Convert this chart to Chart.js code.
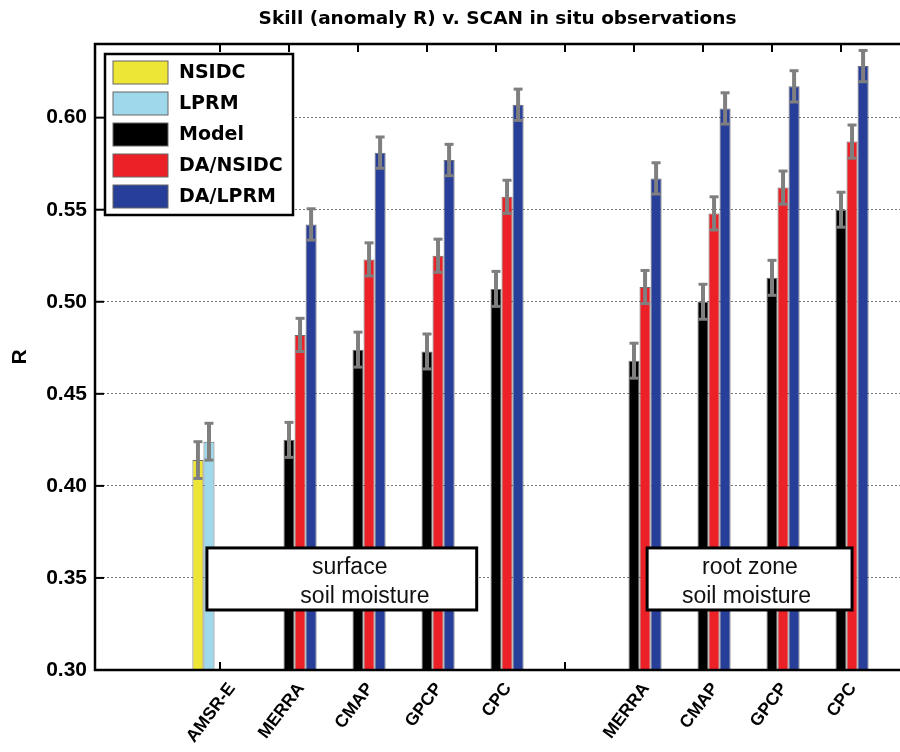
<!DOCTYPE html>
<html>
<head>
<meta charset="utf-8">
<script src="https://cdn.jsdelivr.net/npm/chart.js@4.4.1/dist/chart.umd.min.js"></script>
<style>
  html, body { margin: 0; padding: 0; background: #fff; }
  #wrap { width: 900px; height: 752px; }
</style>
</head>
<body>
<div id="wrap"><canvas id="myChart" width="900" height="752"></canvas></div>
<script>
// tick labels along x (position 6 is the empty gap between the two groups)
const categories = ['AMSR-E', 'MERRA', 'CMAP', 'GPCP', 'CPC', '', 'MERRA', 'CMAP', 'GPCP', 'CPC'];
const seriesNames = ['NSIDC', 'LPRM', 'Model', 'DA/NSIDC', 'DA/LPRM'];

const nsidc   = [0.414, null, null, null, null, null, null, null, null, null];
const lprm    = [0.424, null, null, null, null, null, null, null, null, null];
const model   = [null, 0.425, 0.474, 0.473, 0.507, null, 0.468, 0.500, 0.513, 0.550];
const daNsidc = [null, 0.482, 0.523, 0.525, 0.557, null, 0.508, 0.548, 0.562, 0.587];
const daLprm  = [null, 0.542, 0.581, 0.577, 0.607, null, 0.567, 0.605, 0.617, 0.628];

// half length of the grey error bars, one per series
const errors = [0.010, 0.010, 0.0095, 0.009, 0.0085];

const yTicks = [0.30, 0.35, 0.40, 0.45, 0.50, 0.55, 0.60];

const COLORS = ['#eee637', '#9ed8ea', '#000000', '#ec2128', '#283f9a'];

const series = [nsidc, lprm, model, daNsidc, daLprm];

const datasets = series.map(function (vals, k) {
    return {
        label: seriesNames[k],
        backgroundColor: COLORS[k],
        borderColor: 'rgba(70,70,70,0.8)',
        borderWidth: 1,
        base: 0.3,
        err: errors[k],
        data: vals.map(function (v, i) { return { x: i + 1, y: v }; })
    };
});

function line(ctx, x0, y0, x1, y1) {
    ctx.beginPath();
    ctx.moveTo(x0, y0);
    ctx.lineTo(x1, y1);
    ctx.stroke();
}

const extras = {
    id: 'extras',
    afterDraw(chart) {
        const ctx = chart.ctx;
        const area = chart.chartArea;
        const xs = chart.scales.x;
        const ys = chart.scales.y;
        ctx.save();

        // error bars
        ctx.strokeStyle = '#7f7f7f';
        chart.data.datasets.forEach(function (ds, d) {
            const meta = chart.getDatasetMeta(d);
            meta.data.forEach(function (bar, i) {
                const v = ds.data[i].y;
                if (v === null) return;
                const top = ys.getPixelForValue(v + ds.err);
                const bot = ys.getPixelForValue(v - ds.err);
                ctx.lineWidth = 4;
                line(ctx, bar.x, top, bar.x, bot);
                ctx.lineWidth = 3;
                line(ctx, bar.x - 4.5, top, bar.x + 4.5, top);
                line(ctx, bar.x - 4.5, bot, bar.x + 4.5, bot);
            });
        });

        // axes box (right side runs off the canvas)
        ctx.strokeStyle = '#000';
        ctx.lineWidth = 2.5;
        ctx.beginPath();
        ctx.moveTo(area.right + 10, area.top);
        ctx.lineTo(area.left, area.top);
        ctx.lineTo(area.left, area.bottom);
        ctx.lineTo(area.right + 10, area.bottom);
        ctx.stroke();

        // inward tick marks
        ctx.lineWidth = 2;
        xs.ticks.forEach(function (t) {
            const px = xs.getPixelForValue(t.value);
            line(ctx, px, area.top, px, area.top + 8);
            line(ctx, px, area.bottom, px, area.bottom - 8);
        });
        yTicks.forEach(function (t) {
            const py = ys.getPixelForValue(t);
            line(ctx, area.left, py, area.left + 9, py);
        });

        // text boxes
        const notes = [
            { x0: 0.81, x1: 4.72, lines: [['surface', 2.88], ['soil moisture', 3.10]] },
            { x0: 7.19, x1: 10.16, lines: [['root zone', 8.68], ['soil moisture', 8.63]] }
        ];
        notes.forEach(function (n) {
            const l = xs.getPixelForValue(n.x0);
            const r = xs.getPixelForValue(n.x1);
            const t = ys.getPixelForValue(0.3663);
            const b = ys.getPixelForValue(0.3326);
            ctx.fillStyle = '#fff';
            ctx.fillRect(l, t, r - l, b - t);
            ctx.strokeStyle = '#000';
            ctx.lineWidth = 3;
            ctx.strokeRect(l, t, r - l, b - t);
            ctx.fillStyle = '#111';
            ctx.font = '23px "Liberation Sans", Arial, sans-serif';
            ctx.textAlign = 'center';
            ctx.textBaseline = 'middle';
            ctx.fillText(n.lines[0][0], xs.getPixelForValue(n.lines[0][1]), ys.getPixelForValue(0.3554));
            ctx.fillText(n.lines[1][0], xs.getPixelForValue(n.lines[1][1]), ys.getPixelForValue(0.3397));
        });

        // legend box, top left inside the axes
        const lx = area.left + 10;
        const ly = area.top + 10;
        ctx.fillStyle = '#fff';
        ctx.fillRect(lx, ly, 188, 161);
        ctx.strokeStyle = '#000';
        ctx.lineWidth = 2.5;
        ctx.strokeRect(lx, ly, 188, 161);
        ctx.font = 'bold 19px "DejaVu Sans", sans-serif';
        ctx.textAlign = 'left';
        ctx.textBaseline = 'middle';
        chart.data.datasets.forEach(function (ds, k) {
            const cy = ly + 18.5 + 31 * k;
            ctx.fillStyle = ds.backgroundColor;
            ctx.fillRect(lx + 8, cy - 11.5, 55, 23);
            ctx.strokeStyle = '#666';
            ctx.lineWidth = 1;
            ctx.strokeRect(lx + 8, cy - 11.5, 55, 23);
            ctx.fillStyle = '#000';
            ctx.fillText(ds.label, lx + 74, cy + 1);
        });
        ctx.restore();
    }
};

const config = {
    type: 'bar',
    data: { datasets: datasets },
    options: {
        responsive: false,
        animation: false,
        events: [],
        layout: { padding: 0 },
        datasets: {
            bar: { categoryPercentage: 0.8, barPercentage: 1.0, grouped: true }
        },
        plugins: {
            legend: { display: false },
            tooltip: { enabled: false },
            title: {
                display: true,
                text: 'Skill (anomaly R) v. SCAN in situ observations',
                fullSize: false,
                color: '#000',
                font: { family: 'DejaVu Sans', size: 18.5, weight: 'bold' },
                padding: { top: 8, bottom: 13.8 }
            }
        },
        scales: {
            x: {
                type: 'linear',
                offset: false,
                min: -0.812,
                max: 10.855,
                grid: { display: false, drawTicks: false, offset: false },
                border: { display: false },
                afterBuildTicks: function (scale) {
                    scale.ticks = categories.map(function (c, i) { return { value: i + 1 }; });
                },
                afterFit: function (scale) { scale.height = 82; },
                ticks: {
                    autoSkip: false,
                    minRotation: 53,
                    maxRotation: 53,
                    padding: 9,
                    labelOffset: 12,
                    color: '#000',
                    font: { family: 'Liberation Sans', size: 17.5, weight: 'bold' },
                    callback: function (value) { return categories[value - 1]; }
                }
            },
            y: {
                min: 0.30,
                max: 0.64,
                grid: { color: '#777', lineWidth: 1, drawTicks: false },
                border: { display: false, dash: [2, 2] },
                afterBuildTicks: function (scale) {
                    scale.ticks = yTicks.map(function (v) { return { value: v }; });
                },
                afterFit: function (scale) { scale.width = 95; },
                title: {
                    display: true,
                    text: 'R',
                    color: '#000',
                    font: { family: 'Liberation Sans', size: 21, weight: 'bold' },
                    padding: { top: 8, bottom: 0 }
                },
                ticks: {
                    padding: 8,
                    color: '#000',
                    font: { family: 'Liberation Sans', size: 21, weight: 'bold' },
                    callback: function (value) { return value.toFixed(2); }
                }
            }
        }
    },
    plugins: [extras]
};

const myChart = new Chart(document.getElementById('myChart'), config);
</script>
</body>
</html>
